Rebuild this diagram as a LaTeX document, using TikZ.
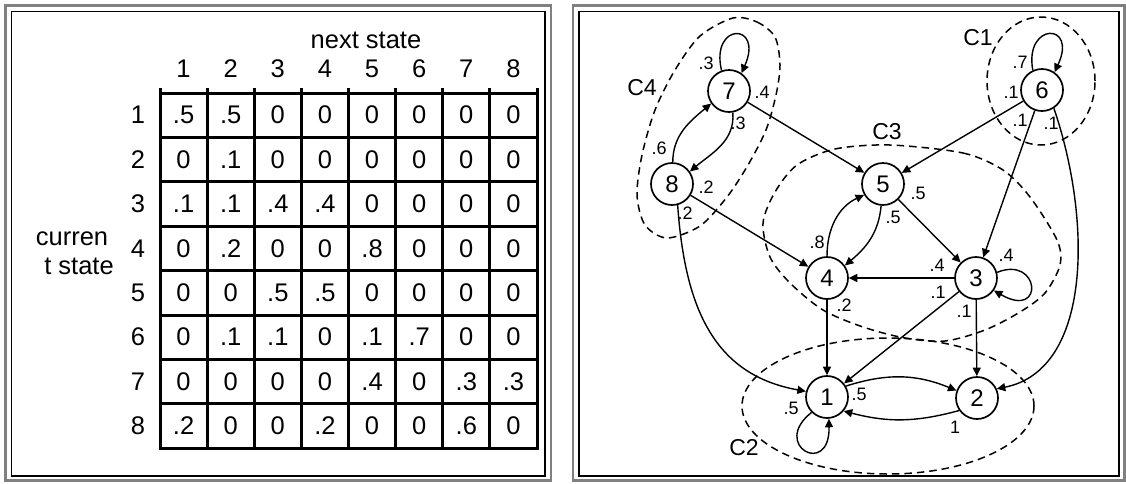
\documentclass[tikz,border=0pt]{standalone}
\usepackage{fontspec}
\setmainfont{Liberation Sans}
\usetikzlibrary{arrows.meta}
\begin{document}
\begin{tikzpicture}[x=1pt, y=-1pt,
  frameout/.style={draw=black!50, line width=2.4pt},
  framein/.style={draw=black, line width=1.3pt},
  gridline/.style={line width=3pt, line cap=rect},
  txt/.style={inner sep=0pt, font=\fontsize{25.5}{25.5}\selectfont},
  stnode/.style={circle, draw, line width=1.7pt, minimum size=42pt, inner sep=0pt, fill=white, font=\fontsize{24}{24}\selectfont},
  tr/.style={line width=1.4pt, -{Triangle[length=8.5pt,width=8pt]}},
  prob/.style={inner sep=0pt, font=\fontsize{18}{18}\selectfont},
  cluster/.style={line width=1.5pt, dash pattern=on 7.5pt off 5pt},
  cname/.style={inner sep=0pt, font=\fontsize{23}{23}\selectfont},
]
\useasboundingbox (0,0) rectangle (1126,483);
\fill[white] (0,0) rectangle (1126,483);

% panel frames
\draw[frameout] (5.5,5.5) rectangle (551,480.5);
\draw[framein] (11.5,11.5) rectangle (545,476);
\draw[frameout] (573,5.5) rectangle (1124.5,480.5);
\draw[framein] (579,11.5) rectangle (1119,476);

% ---------- transition matrix ----------
\node[txt] (ns) at (366,40) {next state};
\node[txt] (cs1) at (72,239) {curren};
\node[txt] (cs2) at (79,266) {t state};
\foreach \c in {1,...,8}
  \node[txt] (h\c) at ({160+47.125*(\c-0.5)},69) {\c};
\foreach \r in {1,...,8}
  \node[txt] (r\r) at (138,{93+44.4*(\r-0.5)}) {\r};
\foreach \c in {0,...,8}
  \draw[gridline] ({160+47.125*\c},89) -- ({160+47.125*\c},448);
\foreach \r in {0,...,8}
  \draw[gridline] (160,{93+44.4*\r}) -- (537,{93+44.4*\r});
\foreach \row [count=\r] in {
  {.5,.5,0,0,0,0,0,0},
  {0,.1,0,0,0,0,0,0},
  {.1,.1,.4,.4,0,0,0,0},
  {0,.2,0,0,.8,0,0,0},
  {0,0,.5,.5,0,0,0,0},
  {0,.1,.1,0,.1,.7,0,0},
  {0,0,0,0,.4,0,.3,.3},
  {.2,0,0,.2,0,0,.6,0}}
  \foreach \v [count=\c] in \row
    \node[txt] (m-\r-\c) at ({160+47.125*(\c-0.5)},{93+44.4*(\r-0.5)}) {\v};

% ---------- state graph ----------
% clusters
\draw[cluster] (1041,81) ellipse [x radius=54pt, y radius=64pt];
\draw[cluster] plot[smooth cycle] coordinates {(733,18) (757,22) (775,37) (780,65) (776,95) (766,130) (748,165) (727,197) (700,226) (667,238) (645,225) (637,195) (642,155) (655,110) (675,70) (700,36)};
\draw[cluster] plot[smooth cycle] coordinates {(890,145) (963,153) (1003,170) (1030,197) (1057,240) (1060,265) (1045,293) (1020,312) (985,330) (945,341) (905,338) (863,327) (823,310) (790,283) (770,257) (763,223) (775,192) (797,165) (835,149)};
\draw[cluster] (888,406) ellipse [x radius=146pt, y radius=68pt];

\node[cname] (c1) at (978,38) {C1};
\node[cname] (c4) at (642,88) {C4};
\node[cname] (c3) at (887,132) {C3};
\node[cname] (c2) at (744,448) {C2};

% states
\node[stnode] (n1) at (827,397) {1};
\node[stnode] (n2) at (977,398) {2};
\node[stnode] (n3) at (976,278) {3};
\node[stnode] (n4) at (827,278) {4};
\node[stnode] (n5) at (883,184) {5};
\node[stnode] (n6) at (1042,90) {6};
\node[stnode] (n7) at (729,91) {7};
\node[stnode] (n8) at (672,184) {8};

% transitions
\draw[tr] (n7.110) .. controls (710,22) and (764,22) .. (n7.55);
\draw[tr] (n6.115) .. controls (1024,22) and (1078,22) .. (n6.55);
\draw[tr] (n3.15) .. controls (1040,255) and (1045,320) .. (n3.-35);
\draw[tr] (n1.225) .. controls (770,445) and (830,478) .. (n1.275);
\draw[tr] (n7) -- (n5);
\draw[tr] (n6) -- (n5);
\draw[tr] (n6) -- (n3);
\draw[tr] (n5) -- (n3);
\draw[tr] (n8) -- (n4);
\draw[tr] (n3) -- (n4);
\draw[tr] (n3) -- (n1);
\draw[tr] (n3) -- (n2);
\draw[tr] (n4) -- (n1);
\draw[tr] (n7.280) to[out=-85, in=40] (n8.35);
\draw[tr] (n8.88) to[out=90, in=220] (n7.215);
\draw[tr] (n4.90) to[out=90, in=205] (n5.210);
\draw[tr] (n5.265) to[out=-95, in=40] (n4.35);
\draw[tr] (n1.30) to[bend left=20] (n2.160);
\draw[tr] (n2.215) to[bend left=15] (n1.-40);
\draw[tr] (n8.-75) .. controls (685,310) and (715,375) .. (n1.165);
\draw[tr] (n6.-57) .. controls (1092,220) and (1092,370) .. (n2.25);

% transition probabilities
\node[prob] (p77) at (706,63) {.3};
\node[prob] (p75) at (762,92) {.4};
\node[prob] (p78) at (738,123) {.3};
\node[prob] (p87) at (659,148) {.6};
\node[prob] (p84) at (706,187) {.2};
\node[prob] (p81) at (685,213) {.2};
\node[prob] (p66) at (1020,62) {.7};
\node[prob] (p65) at (1011,92) {.1};
\node[prob] (p63) at (1020,120) {.1};
\node[prob] (p62) at (1051,123) {.1};
\node[prob] (p53) at (918,193) {.5};
\node[prob] (p54) at (893,217) {.5};
\node[prob] (p45) at (817,242) {.8};
\node[prob] (p41) at (844,305) {.2};
\node[prob] (p34) at (937,265) {.4};
\node[prob] (p31) at (938,292) {.1};
\node[prob] (p32) at (964,311) {.1};
\node[prob] (p33) at (1006,255) {.4};
\node[prob] (p12) at (859,394) {.5};
\node[prob] (p11) at (791,408) {.5};
\node[prob] (p21) at (955,427) {1};
\end{tikzpicture}
\end{document}
